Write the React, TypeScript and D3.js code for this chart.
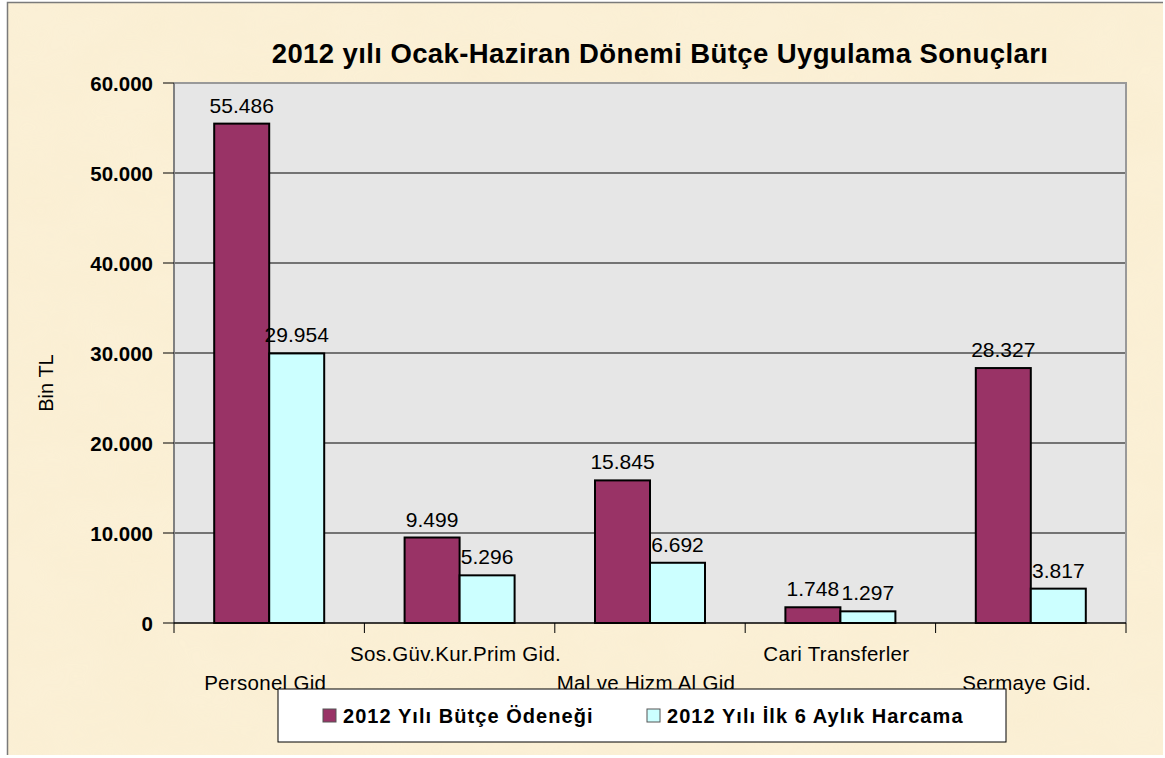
import React from "react";
import * as d3 from "d3";

const categories = [
  "Personel Gid",
  "Sos.Güv.Kur.Prim Gid.",
  "Mal ve Hizm Al Gid",
  "Cari Transferler",
  "Sermaye Gid.",
];
const budget = [55486, 9499, 15845, 1748, 28327];
const spent = [29954, 5296, 6692, 1297, 3817];
const seriesNames = ["2012 Yılı Bütçe Ödeneği", "2012 Yılı İlk 6 Aylık Harcama"];
const yTicks = [0, 10000, 20000, 30000, 40000, 50000, 60000];

const W = 1165;
const H = 758;
const plot = { left: 174, right: 1126, top: 83, bottom: 623 };
const colors = ["#993366", "#CCFFFF"];
const font = "Arial, 'Liberation Sans', sans-serif";

const fmt = (v: number) => d3.format(",")(v).replace(/,/g, ".");

export default function App() {
  const x = d3
    .scaleBand<string>()
    .domain(categories)
    .range([plot.left, plot.right])
    .paddingInner(0)
    .paddingOuter(0);
  const y = d3.scaleLinear().domain([0, 60000]).range([plot.bottom, plot.top]);
  const barW = 55;
  const series = [budget, spent];

  return (
    <svg
      width={W}
      height={H}
      style={{ position: "absolute", left: 0, top: 0, background: "#fff" }}
      fontFamily={font}
    >
      <defs>
        <filter id="paper" x="0" y="0" width="100%" height="100%">
          <feTurbulence type="fractalNoise" baseFrequency="0.012 0.02" numOctaves={3} seed={4} />
          <feColorMatrix
            type="matrix"
            values="0 0 0 0 0.94  0 0 0 0 0.83  0 0 0 0 0.6  0 0 0 0.7 -0.15"
          />
        </filter>
      </defs>

      {/* chart area */}
      <rect x={7} y={2} width={1156} height={753} fill="#FBF0D6" />
      <rect x={7} y={2} width={1156} height={753} filter="url(#paper)" opacity={0.6} />
      <path d="M7.5,755 V2.5 H1163" fill="none" stroke="#7a7a7a" strokeWidth={1.5} />

      <text x={660} y={63} textAnchor="middle" fontSize={27.5} fontWeight="bold" letterSpacing={0.4}>
        2012 yılı Ocak-Haziran Dönemi Bütçe Uygulama Sonuçları
      </text>

      {/* plot area */}
      <rect
        x={plot.left}
        y={plot.top}
        width={plot.right - plot.left}
        height={plot.bottom - plot.top}
        fill="#E6E6E6"
      />
      {yTicks.slice(1, -1).map((t) => (
        <line key={t} x1={plot.left} x2={plot.right} y1={y(t)} y2={y(t)} stroke="#000" strokeWidth={1} />
      ))}
      <path
        d={`M${plot.left},${plot.top} H${plot.right} V${plot.bottom}`}
        fill="none"
        stroke="#999"
        strokeWidth={2}
      />

      {/* bars */}
      {categories.map((c, i) => {
        const cx = (x(c) as number) + x.bandwidth() / 2;
        return series.map((s, k) => {
          const bx = cx - barW + k * barW;
          return (
            <g key={c + k}>
              <rect
                x={bx}
                y={y(s[i])}
                width={barW}
                height={y(0) - y(s[i])}
                fill={colors[k]}
                stroke="#000"
                strokeWidth={2}
              />
              <text x={bx + barW / 2} y={y(s[i]) - 11} textAnchor="middle" fontSize={21}>
                {fmt(s[i])}
              </text>
            </g>
          );
        });
      })}

      {/* y axis */}
      <line x1={plot.left} x2={plot.left} y1={plot.top} y2={plot.bottom} stroke="#808080" strokeWidth={2} />
      {yTicks.map((t) => (
        <g key={t}>
          <line x1={163} x2={plot.left} y1={y(t)} y2={y(t)} stroke="#000" />
          <text x={153} y={y(t) + 8} textAnchor="end" fontSize={20.5} fontWeight="bold">
            {fmt(t)}
          </text>
        </g>
      ))}
      <text transform="translate(53,383) rotate(-90)" textAnchor="middle" fontSize={20}>
        Bin TL
      </text>

      {/* x axis */}
      <line x1={plot.left} x2={plot.right} y1={plot.bottom} y2={plot.bottom} stroke="#000" strokeWidth={1.5} />
      {categories.map((c) => (
        <line key={c} x1={x(c)} x2={x(c)} y1={plot.bottom} y2={plot.bottom + 10} stroke="#000" />
      ))}
      <line x1={plot.right} x2={plot.right} y1={plot.bottom} y2={plot.bottom + 10} stroke="#000" />
      {categories.map((c, i) => (
        <text
          key={c}
          x={(x(c) as number) + x.bandwidth() / 2 - 4}
          y={i % 2 === 0 ? 690 : 661}
          textAnchor="middle"
          fontSize={20.5}
          letterSpacing={0.3}
        >
          {c}
        </text>
      ))}

      {/* legend */}
      <rect x={278} y={689} width={728} height={53} fill="#fff" stroke="#000" strokeWidth={1} />
      {seriesNames.map((n, k) => {
        const lx = k === 0 ? 323 : 647;
        return (
          <g key={n}>
            <rect x={lx} y={709} width={13} height={13} fill={colors[k]} stroke="#555" strokeWidth={1} />
            <text x={lx + 20} y={723} fontSize={20} fontWeight="bold" letterSpacing={1.05}>
              {n}
            </text>
          </g>
        );
      })}
    </svg>
  );
}
